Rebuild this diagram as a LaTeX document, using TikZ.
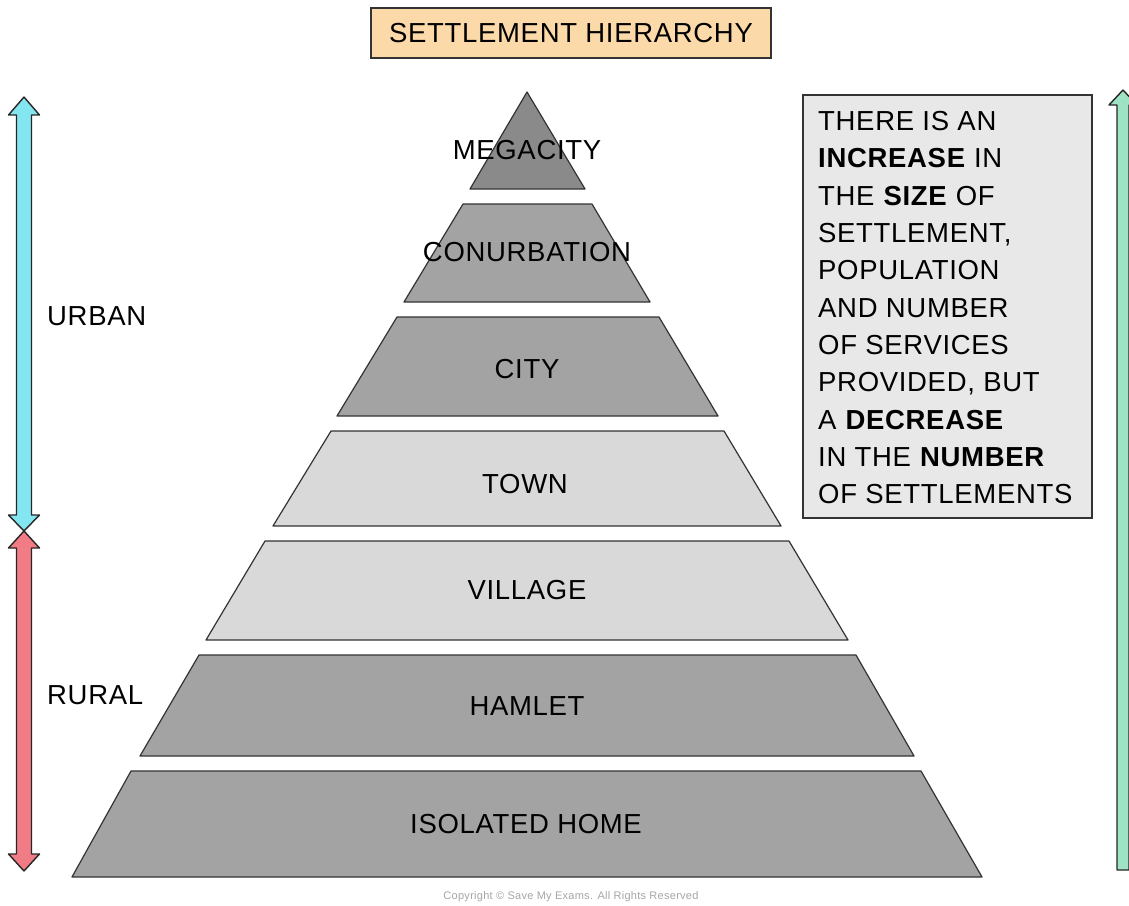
\documentclass[tikz,border=0pt]{standalone}
\usepackage{fontspec}
\setmainfont{Liberation Sans}[LetterSpace=2.5]
\definecolor{dgrey}{RGB}{163,163,163}
\definecolor{mgrey}{RGB}{138,138,138}
\definecolor{lgrey}{RGB}{217,217,217}
\definecolor{boxgrey}{RGB}{232,232,232}
\definecolor{peach}{RGB}{252,217,168}
\definecolor{ablue}{RGB}{132,230,240}
\definecolor{ared}{RGB}{242,124,134}
\definecolor{agreen}{RGB}{158,227,195}
\tikzset{
  layer/.style={draw=black!80, line width=1.2pt, line join=round},
  lbl/.style={font=\fontsize{27.5}{32}\selectfont, inner sep=0pt},
  arr/.style={draw=black!85, line width=1.4pt, line join=round},
}
\begin{document}
\begin{tikzpicture}[x=1pt,y=-1pt]
\useasboundingbox (0,0) rectangle (1129,905);
\fill[white] (0,0) rectangle (1129,905);
% title
\node[draw=black!80, line width=1.2pt, fill=peach, minimum width=400pt, minimum height=50pt, inner sep=0pt, font=\fontsize{27.5}{32}\selectfont] (title) at (571,33) {SETTLEMENT HIERARCHY};
% pyramid
\draw[layer, fill=mgrey] (527,92) -- (585,189) -- (470,189) -- cycle;
\draw[layer, fill=dgrey] (463,204) -- (592,204) -- (650,302) -- (404,302) -- cycle;
\draw[layer, fill=dgrey] (397,317) -- (659,317) -- (718,416) -- (337,416) -- cycle;
\draw[layer, fill=lgrey] (331,431) -- (724,431) -- (781,526) -- (273,526) -- cycle;
\draw[layer, fill=lgrey] (265,541) -- (789,541) -- (848,640) -- (206,640) -- cycle;
\draw[layer, fill=dgrey] (199,655) -- (856,655) -- (914,756) -- (140,756) -- cycle;
\draw[layer, fill=dgrey] (131,771) -- (921,771) -- (982,877) -- (72,877) -- cycle;
\node[lbl] (mega) at (527,150) {MEGACITY};
\node[lbl] (conurb) at (527,252) {CONURBATION};
\node[lbl] (city) at (527,369) {CITY};
\node[lbl] (town) at (525,484) {TOWN};
\node[lbl] (village) at (527,590) {VILLAGE};
\node[lbl] (hamlet) at (527,706) {HAMLET};
\node[lbl] (isolated) at (526,824) {ISOLATED HOME};
% left arrows
\draw[arr, fill=ablue] (24,97) -- (39.5,115) -- (31.5,115) -- (31.5,515) -- (39.5,515) -- (24,531)
  -- (8.5,515) -- (16.5,515) -- (16.5,115) -- (8.5,115) -- cycle;
\draw[arr, fill=ared] (24,531) -- (39.5,548) -- (31.5,548) -- (31.5,854) -- (39.5,854) -- (24,871)
  -- (8.5,854) -- (16.5,854) -- (16.5,548) -- (8.5,548) -- cycle;
\node[lbl, anchor=west] (urban) at (47,316) {URBAN};
\node[lbl, anchor=west] (rural) at (47,695) {RURAL};
% text box
\draw[draw=black!80, line width=1.2pt, fill=boxgrey] (803,95) rectangle (1092,518);
\node[lbl, anchor=north west, align=left, font=\fontsize{27.5}{37.35}\selectfont] (desc) at (818,111)
 {THERE IS AN\\ \textbf{INCREASE} IN\\ THE \textbf{SIZE} OF\\ SETTLEMENT,\\ POPULATION\\ AND NUMBER\\ OF SERVICES\\ PROVIDED, BUT\\ A \textbf{DECREASE}\\ IN THE \textbf{NUMBER}\\ OF SETTLEMENTS};
% right arrow
\draw[arr, fill=agreen] (1123,90) -- (1137,105) -- (1129,105) -- (1129,870) -- (1117,870) -- (1117,105) -- (1109,105) -- cycle;
% copyright
\node[font=\fontsize{11}{13}\selectfont, text=black!35, inner sep=0pt] (copy) at (571,897) {Copyright \textcopyright\ Save My Exams. All Rights Reserved};
\end{tikzpicture}
\end{document}
